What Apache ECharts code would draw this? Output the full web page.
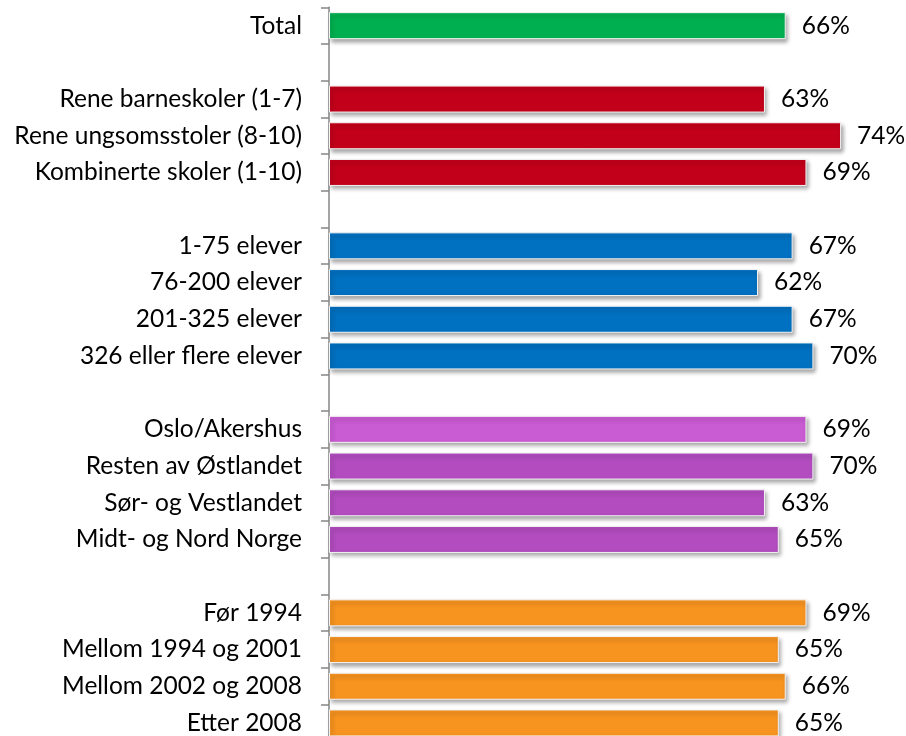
<!DOCTYPE html>
<html>
<head>
<meta charset="utf-8">
<style>
  html, body { margin: 0; padding: 0; background: #fff; }
  #chart { width: 906px; height: 736px; }
</style>
<script src="https://cdn.jsdelivr.net/npm/echarts@6/dist/echarts.min.js"></script>
</head>
<body>
<div id="chart"></div>
<script>
// categories top to bottom, '' = gap between groups
var categories = [
    'Total', '',
    'Rene barneskoler (1-7)', 'Rene ungsomsstoler (8-10)', 'Kombinerte skoler (1-10)', '',
    '1-75 elever', '76-200 elever', '201-325 elever', '326 eller flere elever', '',
    'Oslo/Akershus', 'Resten av Østlandet', 'Sør- og Vestlandet', 'Midt- og Nord Norge', '',
    'Før 1994', 'Mellom 1994 og 2001', 'Mellom 2002 og 2008', 'Etter 2008'
];
var values = [
    66, null,
    63, 74, 69, null,
    67, 62, 67, 70, null,
    69, 70, 63, 65, null,
    69, 65, 66, 65
];
var groups = [
    'total', '',
    'skole', 'skole', 'skole', '',
    'elev', 'elev', 'elev', 'elev', '',
    'oslo', 'region', 'region', 'region', '',
    'aar', 'aar', 'aar', 'aar'
];

var groupColors = {
    total: '#00B050',
    skole: '#C3001A',
    elev: '#0070C0',
    oslo: '#C95BD3',
    region: '#B24CBF',
    aar: '#F7931F'
};

var font = 'Lato, "Open Sans", sans-serif';

var seriesData = values.map(function (v, i) {
    if (v === null) return '-';
    return { value: v, itemStyle: { color: groupColors[groups[i]] } };
});

var chart = echarts.init(document.getElementById('chart'));
chart.setOption({
    animation: false,
    grid: { left: 329, top: 7.3, width: 692, height: 734, outerBoundsMode: 'none', containLabel: false },
    xAxis: {
        type: 'value', min: 0, max: 100,
        show: false, splitLine: { show: false }
    },
    yAxis: {
        type: 'category',
        inverse: true,
        data: categories,
        axisLine: { lineStyle: { color: '#868686', width: 1.5 } },
        axisTick: { show: true, length: 8, lineStyle: { color: '#868686', width: 1.5 } },
        axisLabel: {
            margin: 27, color: '#000', fontSize: 24.5, fontFamily: font, interval: 0
        }
    },
    series: [{
        type: 'bar',
        data: seriesData,
        barWidth: 27,
        itemStyle: {
            borderColor: '#f4f4f4', borderWidth: 1,
            shadowColor: 'rgba(0,0,0,0.35)', shadowBlur: 4,
            shadowOffsetX: 2, shadowOffsetY: 3
        },
        label: {
            show: true, position: 'right', distance: 16,
            color: '#000', fontSize: 24.5, fontFamily: font,
            formatter: '{c}%'
        }
    }]
});
</script>
</body>
</html>
